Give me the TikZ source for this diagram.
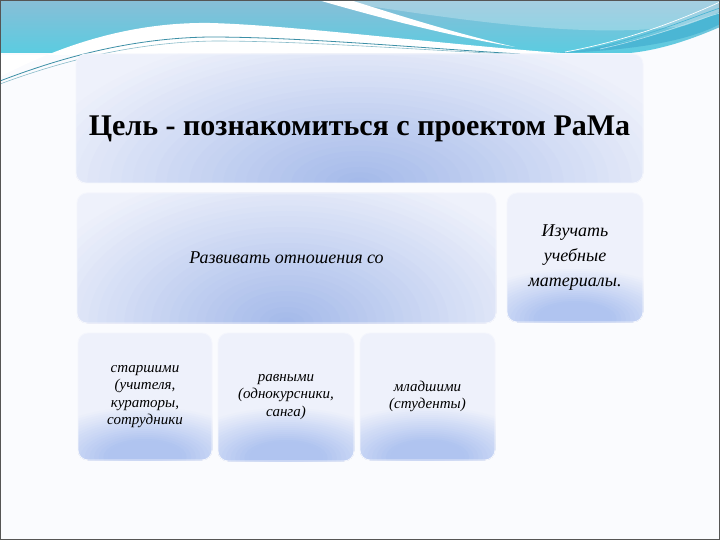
\documentclass[tikz,border=0pt]{standalone}
\usepackage{fontspec}
\setmainfont{Liberation Serif}
\definecolor{bgc}{HTML}{FAFBFE}
\definecolor{wavetop}{HTML}{88BED7}
\definecolor{wavecyan}{HTML}{40D4E6}
\definecolor{waveband}{HTML}{4BB6D4}
\definecolor{tealline}{HTML}{3C8FA6}
\definecolor{topline}{HTML}{1E5A6E}
\definecolor{framegray}{HTML}{555555}
\definecolor{boxlight}{HTML}{EEF1FB}
\definecolor{boxdark}{HTML}{A2B8E9}
\definecolor{smalldark}{HTML}{B0C4F0}
\definecolor{boxedge}{HTML}{F4F6FD}
\tikzset{
  panel/.style={rounded corners=10pt, inner sep=2pt, align=center, fill=boxlight,
    draw=boxedge, line width=0.8pt, text=black},
  bigshade/.style 2 args={path picture={
    \foreach \i in {30,29,...,1}{
      \pgfmathtruncatemacro\p{100*(1-\i/30)}
      \fill[boxdark!\p!boxlight] (path picture bounding box.south)
        ellipse ({#1*\i/30} and {#2*\i/30});}}},
  smallshade/.style={path picture={
    \foreach \i in {26,25,...,1}{
      \pgfmathtruncatemacro\p{min(100,150*(1-\i/26))}
      \fill[smalldark!\p!boxlight] ([yshift=3pt]path picture bounding box.south)
        ellipse ({120pt*\i/26} and {52pt*\i/26});}}},
  bodytext/.style={font=\fontsize{18}{25}\selectfont\itshape},
  smalltext/.style={font=\fontsize{15}{17.5}\selectfont\itshape}
}
\begin{document}
\begin{tikzpicture}[x=1pt,y=-1pt]
\useasboundingbox (0,0) rectangle (720,540);
\fill[bgc] (0,0) rectangle (720,540);
% wave band
\shade[top color=wavetop, bottom color=wavecyan]
  (0,0) -- (720,0) -- (720,27) .. controls (690,40) and (660,50) .. (630,53)
  -- (0,53) -- (0,84) -- cycle;
\fill[white, opacity=0.25] (330,0) -- (720,0) -- (720,20) .. controls (620,40) and (520,30) .. (330,0) -- cycle;
\fill[waveband] (560,53) .. controls (640,50) and (690,40) .. (720,24) -- (720,12)
  .. controls (680,30) and (620,46) .. (560,53) -- cycle;
\fill[white] (0,77) .. controls (70,40) and (140,22) .. (210,23)
  .. controls (290,25) and (430,43) .. (560,53) -- (560,55) -- (0,55) -- cycle;
\fill[white] (318,0) .. controls (380,18) and (450,36) .. (515,47)
  .. controls (450,32) and (395,14) .. (350,0) -- cycle;
\draw[tealline, line width=0.8pt] (0,81) .. controls (60,58) and (130,38) .. (210,37)
  .. controls (300,37) and (420,48) .. (520,54);
\draw[tealline!60, line width=0.6pt] (0,84) .. controls (62,61) and (135,42) .. (215,41)
  .. controls (305,41) and (420,50) .. (510,54);
\draw[white, line width=0.7pt] (565,52) .. controls (630,40) and (680,20) .. (720,2);
\draw[waveband, line width=0.7pt] (585,50) .. controls (645,38) and (690,18) .. (720,8);
\draw[white!60!waveband, line width=0.6pt] (600,49) .. controls (655,37) and (695,20) .. (720,13);
\fill[topline] (0,0) rectangle (720,1.5);
% panels
\node[panel, bigshade={340pt}{160pt}, minimum width=567pt, minimum height=129pt,
  font=\fontsize{30}{36}\selectfont\bfseries] (goal) at (359.5,118.5)
  {\raisebox{-17pt}[0pt][0pt]{Цель - познакомиться с проектом РаМа}};
\node[panel, bigshade={270pt}{160pt}, minimum width=419pt, minimum height=130pt,
  bodytext] (relations) at (286.5,258) {Развивать отношения со};
\node[panel, smallshade, minimum width=136pt, minimum height=129pt, bodytext]
  (study) at (575,257.5) {Изучать\\учебные\\материалы.};
\node[panel, smallshade, minimum width=134pt, minimum height=127pt, smalltext]
  (elder) at (145,396.5) {старшими\\(учителя,\\кураторы,\\сотрудники};
\node[panel, smallshade, minimum width=136pt, minimum height=128pt, smalltext]
  (equal) at (286,397) {равными\\(однокурсники,\\санга)};
\node[panel, smallshade, minimum width=135pt, minimum height=127pt, smalltext]
  (junior) at (427.5,396.5) {младшими\\(студенты)};
\draw[framegray, line width=1.5pt] (0,0) rectangle (720,540);
\end{tikzpicture}
\end{document}
